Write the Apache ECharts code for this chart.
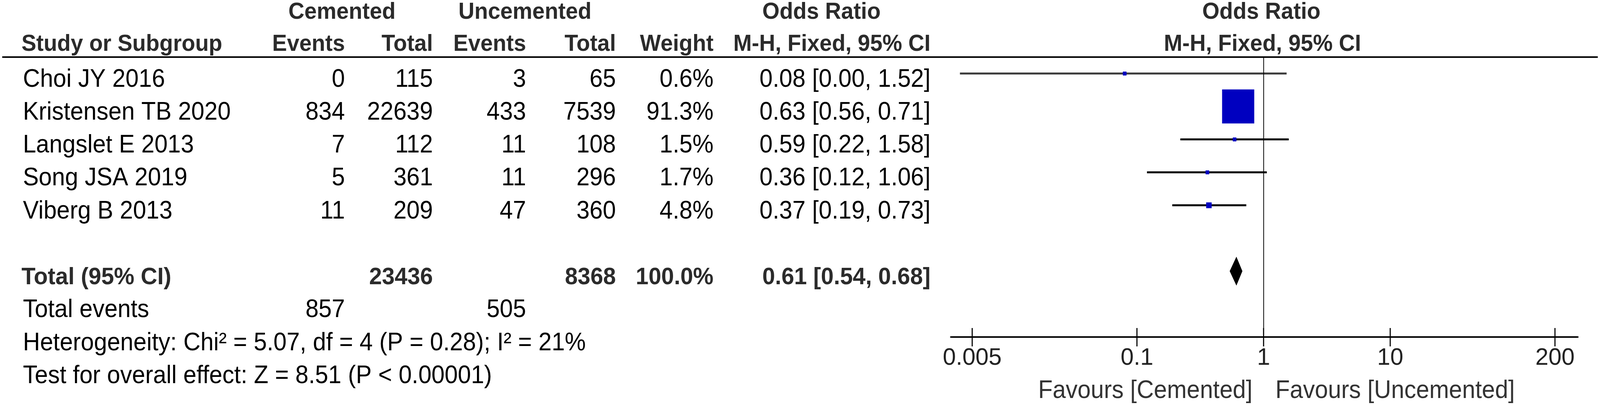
<!DOCTYPE html>
<html>
<head>
<meta charset="utf-8">
<title>Forest plot - cemented vs uncemented</title>
<script src="https://cdn.jsdelivr.net/npm/echarts@6/dist/echarts.min.js"></script>
<style>
  html, body { margin: 0; padding: 0; background: #fff; overflow: hidden; }
  #chart { width: 100vw; height: 100vh; }
</style>
</head>
<body>
<div id="chart"></div>
<script>
// ---- data ----
var studies = ['Choi JY 2016', 'Kristensen TB 2020', 'Langslet E 2013', 'Song JSA 2019', 'Viberg B 2013'];
var cemEvents = [0, 834, 7, 5, 11];
var cemTotal = [115, 22639, 112, 361, 209];
var uncEvents = [3, 433, 11, 11, 47];
var uncTotal = [65, 7539, 108, 296, 360];
var weights = [0.6, 91.3, 1.5, 1.7, 4.8];
var oddsRatio = [0.08, 0.63, 0.59, 0.36, 0.37];
var ciLow = [0.004, 0.56, 0.22, 0.12, 0.19];
var ciHigh = [1.52, 0.71, 1.58, 1.06, 0.73];

var pooledOR = [0.61, 0.54, 0.68];   // estimate, lower, upper
var pooledTotals = [23436, 8368];
var pooledWeight = '100.0%';
var totalEvents = [857, 505];
var heterogeneity = 'Heterogeneity: Chi\u00b2 = 5.07, df = 4 (P = 0.28); I\u00b2 = 21%';
var overallEffect = 'Test for overall effect: Z = 8.51 (P < 0.00001)';

var tickValues = [0.005, 0.1, 1, 10, 200];
var tickLabels = ['0.005', '0.1', '1', '10', '200'];
var favours = ['Favours [Cemented]', 'Favours [Uncemented]'];

// ---- layout (designed on a 4328 x 1041 page, scaled to the real viewport) ----
var FONT = '"Liberation Sans", Arial, sans-serif';
var dom = document.getElementById('chart');
var S = (dom.clientWidth || 4328) / 4328;
var SY = (dom.clientHeight || 1041) / 1041;
function X(v) { return v * S; }
function Y(v) { return v * SY; }
var pooledRow = 6;
function rowTextY(i) { return 204 + i * 84.24; }

var chart = echarts.init(dom);

function txt(s, x, y, align, opts) {
  opts = opts || {};
  return {
    type: 'text',
    silent: true,
    x: X(x),
    y: Y(y),
    scaleX: S / SY,
    style: {
      text: s,
      align: align,
      verticalAlign: 'middle',
      fontFamily: FONT,
      fontSize: (opts.size || 64) * SY,
      fontWeight: opts.bold ? 'bold' : 'normal',
      fill: opts.color || '#000'
    }
  };
}

var graphics = [];
var hb = { bold: true, size: 60, color: '#2b2b2b' };
// header rows
graphics.push(txt('Cemented', 925, 31, 'center', hb));
graphics.push(txt('Uncemented', 1420, 31, 'center', hb));
graphics.push(txt('Odds Ratio', 2222, 31, 'center', hb));
graphics.push(txt('Odds Ratio', 3412, 31, 'center', hb));
graphics.push(txt('Study or Subgroup', 58, 113, 'left', hb));
graphics.push(txt('Events', 933, 113, 'right', hb));
graphics.push(txt('Total', 1171, 113, 'right', hb));
graphics.push(txt('Events', 1423, 113, 'right', hb));
graphics.push(txt('Total', 1666, 113, 'right', hb));
graphics.push(txt('Weight', 1930, 113, 'right', hb));
graphics.push(txt('M-H, Fixed, 95% CI', 2517, 113, 'right', hb));
graphics.push(txt('M-H, Fixed, 95% CI', 3415, 113, 'center', hb));
graphics.push({
  type: 'line', silent: true,
  shape: { x1: X(6), y1: Y(146), x2: X(4322), y2: Y(146) },
  style: { stroke: '#000', lineWidth: 4 * SY }
});

// study rows
studies.forEach(function (name, i) {
  var y = rowTextY(i);
  graphics.push(txt(name, 62, y, 'left'));
  graphics.push(txt(String(cemEvents[i]), 933, y, 'right'));
  graphics.push(txt(String(cemTotal[i]), 1171, y, 'right'));
  graphics.push(txt(String(uncEvents[i]), 1423, y, 'right'));
  graphics.push(txt(String(uncTotal[i]), 1666, y, 'right'));
  graphics.push(txt(weights[i].toFixed(1) + '%', 1930, y, 'right'));
  graphics.push(txt(oddsRatio[i].toFixed(2) + ' [' + ciLow[i].toFixed(2) + ', ' + ciHigh[i].toFixed(2) + ']', 2517, y, 'right'));
});

// pooled rows
var tb = { bold: true, size: 62, color: '#2b2b2b' };
var py = rowTextY(pooledRow);
graphics.push(txt('Total (95% CI)', 58, py, 'left', tb));
graphics.push(txt(String(pooledTotals[0]), 1171, py, 'right', tb));
graphics.push(txt(String(pooledTotals[1]), 1666, py, 'right', tb));
graphics.push(txt(pooledWeight, 1930, py, 'right', tb));
graphics.push(txt(pooledOR[0].toFixed(2) + ' [' + pooledOR[1].toFixed(2) + ', ' + pooledOR[2].toFixed(2) + ']', 2517, py, 'right', tb));
graphics.push(txt('Total events', 62, rowTextY(7), 'left'));
graphics.push(txt(String(totalEvents[0]), 933, rowTextY(7), 'right'));
graphics.push(txt(String(totalEvents[1]), 1423, rowTextY(7), 'right'));
graphics.push(txt(heterogeneity, 62, rowTextY(8), 'left'));
graphics.push(txt(overallEffect, 62, rowTextY(9), 'left'));

// favours labels under the axis
graphics.push(txt(favours[0], 3388, 1000, 'right', { color: '#333' }));
graphics.push(txt(favours[1], 3450, 1000, 'left', { color: '#333' }));

function tickLabel(v) {
  for (var k = 0; k < tickValues.length; k++) {
    if (Math.abs(Math.log(v) - Math.log(tickValues[k])) < 1e-6) return tickLabels[k];
  }
  return '';
}

var option = {
  animation: false,
  backgroundColor: '#fff',
  graphic: graphics,
  grid: { left: X(2572), right: X(60), top: Y(146), bottom: Y(179) },
  xAxis: {
    type: 'log',
    logBase: 10,
    min: 0.00339,
    max: 303,
    axisLine: { show: true, onZero: false, lineStyle: { color: '#000', width: 4 * SY } },
    axisTick: { show: false },
    minorTick: { show: false },
    splitLine: { show: false },
    axisLabel: {
      show: true,
      customValues: tickValues,
      margin: Y(24),
      fontSize: 62 * Math.sqrt(S * SY),
      fontFamily: FONT,
      color: '#222',
      formatter: tickLabel
    }
  },
  yAxis: {
    type: 'value',
    min: -0.5,
    max: 8,
    inverse: true,
    show: false
  },
  series: [
    {
      // confidence intervals
      type: 'custom',
      z: 2,
      encode: { x: [0, 1], y: 2 },
      data: studies.map(function (s, i) { return [ciLow[i], ciHigh[i], i]; }),
      renderItem: function (params, api) {
        var a = api.coord([api.value(0), api.value(2)]);
        var b = api.coord([api.value(1), api.value(2)]);
        return {
          type: 'line',
          shape: { x1: a[0], y1: a[1], x2: b[0], y2: b[1] },
          style: { stroke: params.dataIndex === 0 ? '#3a3a3a' : '#000', lineWidth: 5 * SY }
        };
      },
      markLine: {
        silent: true,
        symbol: 'none',
        label: { show: false },
        lineStyle: { color: '#000', width: 2 * S, type: 'solid', opacity: 1 },
        data: [{ xAxis: 1 }]
      }
    },
    {
      // study estimates, box size follows weight
      type: 'scatter',
      z: 3,
      symbol: 'rect',
      symbolSize: function (val) {
        var d = Math.max(10, 87 * Math.pow(val[2] / 91.3, 0.6));
        return [d * S, d * SY];
      },
      itemStyle: { color: '#0000c0', opacity: 1 },
      data: studies.map(function (s, i) { return [oddsRatio[i], i, weights[i]]; })
    },
    {
      // pooled diamond
      type: 'custom',
      z: 3,
      encode: { x: [0, 1, 2], y: 3 },
      data: [[pooledOR[0], pooledOR[1], pooledOR[2], pooledRow]],
      renderItem: function (params, api) {
        var c = api.coord([api.value(0), api.value(3)]);
        var l = api.coord([api.value(1), api.value(3)]);
        var r = api.coord([api.value(2), api.value(3)]);
        var h = Y(37);
        return {
          type: 'polygon',
          shape: { points: [[l[0], c[1]], [c[0], c[1] - h], [r[0], c[1]], [c[0], c[1] + h]] },
          style: { fill: '#000' }
        };
      }
    },
    {
      // axis ticks crossing the axis line
      type: 'custom',
      z: 4,
      encode: { x: 0, y: 1 },
      data: tickValues.map(function (v) { return [v, 8]; }),
      renderItem: function (params, api) {
        var p = api.coord([api.value(0), api.value(1)]);
        return {
          type: 'line',
          shape: { x1: p[0], y1: p[1] - Y(23), x2: p[0], y2: p[1] + Y(24) },
          style: { stroke: '#000', lineWidth: 3 * S }
        };
      }
    }
  ]
};

chart.setOption(option);
window.onresize = function () { chart.resize(); };
</script>
</body>
</html>
